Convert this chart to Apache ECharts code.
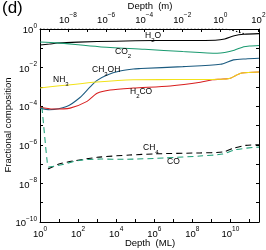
<!DOCTYPE html>
<html><head><meta charset="utf-8">
<script src="https://cdn.jsdelivr.net/npm/echarts@6/dist/echarts.min.js"></script>
<style>html,body{margin:0;padding:0;background:#fff}#c{width:266px;height:250px}</style>
</head><body><div id="c"></div>
<script>
// All values are log10 exponents
// x: log10(Depth in ML), y: log10(fractional composition)
const totalX = [0, 9.5, 10.0, 10.4, 10.7];
const totalY = [0, 0, -0.04, -0.15, -0.24];
const h2oX = [0, 0.5, 0.9, 2, 4, 6, 9.2, 9.7, 10.2, 10.7, 11.5];
const h2oY = [-0.83, -0.78, -0.73, -0.68, -0.63, -0.6, -0.58, -0.52, -0.35, -0.27, -0.24];
const co2X = [0, 0.9, 3.1, 5.5, 7.5, 9.3, 9.7, 10.2, 10.7, 11.0, 11.5];
const co2Y = [-0.67, -0.72, -0.92, -1.05, -1.17, -1.26, -1.22, -1.1, -0.92, -0.88, -0.85];
const ch3ohX = [0, 0.5, 1.4, 2.1, 2.63, 3.0, 3.53, 4.2, 4.9, 5.3, 7.5, 9.47, 10.16, 10.8, 11.5];
const ch3ohY = [-4.1, -4.18, -4.02, -3.55, -3.0, -2.66, -2.38, -2.18, -2.07, -2.05, -1.95, -1.83, -1.6, -1.55, -1.52];
const h2coX = [0, 0.68, 1.58, 2.47, 3.0, 3.68, 4.9, 6.84, 8.42, 9.05, 9.5, 10.0, 10.3, 10.6, 11.5];
const h2coY = [-4.04, -4.15, -4.1, -3.75, -3.33, -3.16, -3.06, -2.95, -2.76, -2.63, -2.6, -2.55, -2.4, -2.28, -2.23];
const nh3X = [0, 3, 4.9, 7, 9.5, 10.0, 10.3, 10.6, 11.5];
const nh3Y = [-3.06, -2.75, -2.63, -2.62, -2.6, -2.55, -2.4, -2.28, -2.23];
const ch4X = [0.42, 1.0, 1.74, 3.0, 4.7, 6, 8.4, 9.6, 10.2, 10.8, 11.5];
const ch4Y = [-7.25, -7.0, -6.84, -6.65, -6.53, -6.47, -6.42, -6.37, -6.17, -6.03, -6.0];
const coX = [0.1, 0.25, 0.37, 0.45, 1.05, 2.1, 3.2, 4.4, 6.6, 8.4, 9.6, 10.2, 11.2, 11.5];
const coY = [-4.05, -5.6, -6.8, -7.15, -7.05, -6.8, -6.74, -6.75, -6.68, -6.58, -6.48, -6.27, -6.13, -6.12];

const xLabelExps = [0, 2, 4, 6, 8, 10];
const xTickExps = [0, 1, 2, 3, 4, 5, 6, 7, 8, 9, 10, 11];
const mLabelExps = [-8, -6, -4, -2, 0, 2];
const mTickExps = [-9, -8, -7, -6, -5, -4, -3, -2, -1, 0, 1, 2];
const mOffset = 9.47; // log10(m) = log10(ML) - offset

const zip = (a, b) => a.map((v, i) => [v, b[i]]);
const FONT = 'Liberation Sans';
const pow = v => '{b|10}{s|' + String(Math.round(v)).replace('-', '\u2212') + '}';
const powRich = {
  b: {fontSize: 9.5, fontFamily: FONT, color: '#000', verticalAlign: 'bottom', lineHeight: 13},
  s: {fontSize: 6.5, fontFamily: FONT, color: '#000', verticalAlign: 'top', lineHeight: 13}
};

const chart = echarts.init(document.getElementById('c'), null, {renderer: 'canvas'});
const axisLine = {show: true, onZero: false, lineStyle: {color: '#000', width: 1}};
const tick = {show: true, inside: true, length: 3, lineStyle: {color: '#000', width: 1}};

function line(name, xs, ys, color, type, width) {
  return {
    name, type: 'line', data: zip(xs, ys), showSymbol: false, smooth: 0.25,
    lineStyle: {color, width: width || 1.05, type: type || 'solid'},
    xAxisIndex: 0, yAxisIndex: 0, z: 3, animation: false
  };
}

const sub = {
  a: {fontSize: 8.5, fontFamily: FONT, color: '#000', verticalAlign: 'top', lineHeight: 12},
  u: {fontSize: 6, fontFamily: FONT, color: '#000', verticalAlign: 'bottom', lineHeight: 12}
};
function note(text, x, y) {
  return {type: 'text', left: x, top: y, z: 10,
    style: {text, rich: sub, fill: '#000', font: '8.5px ' + FONT}};
}
function axisTitle(text, x, y, rot) {
  return {type: 'text', x, y, rotation: rot || 0, z: 10,
    style: {text, font: '9.5px ' + FONT, fill: '#000', align: 'center', verticalAlign: 'middle'}};
}

chart.setOption({
  animation: false,
  grid: {left: 40, top: 29, right: 7, bottom: 28, containLabel: false, outerBoundsMode: 'none'},
  xAxis: [{
    type: 'value', min: 0, max: 11.5, position: 'bottom',
    axisLine, axisTick: Object.assign({customValues: xTickExps}, tick),
    splitLine: {show: false},
    axisLabel: {customValues: xLabelExps, formatter: pow, rich: powRich, margin: 4}
  }, {
    type: 'value', min: -mOffset, max: 11.5 - mOffset, position: 'top',
    axisLine, axisTick: Object.assign({customValues: mTickExps}, tick),
    splitLine: {show: false},
    axisLabel: {customValues: mLabelExps, formatter: pow, rich: powRich, margin: 4}
  }],
  yAxis: [{
    type: 'value', min: -10, max: 0, position: 'left',
    axisLine, axisTick: tick,
    splitLine: {show: false}, interval: 1,
    axisLabel: {formatter: v => (Math.round(v) % 2 === 0 ? pow(v) : ''), rich: powRich, margin: 3}
  }, {
    type: 'value', min: -10, max: 0, position: 'right', interval: 1,
    axisLine, axisTick: tick, axisLabel: {show: false}, splitLine: {show: false}
  }],
  graphic: [
    {type: 'text', left: 2, top: 0, style: {text: '(d)', font: '17px ' + FONT, fill: '#000'}},
    axisTitle('Depth  (ML)', 150, 243),
    axisTitle('Depth  (m)', 150, 6),
    axisTitle('Fractional composition', 8, 125, Math.PI / 2),
    note('{a|H}{u|2}{a|O}', 145, 31),
    note('{a|CO}{u|2}', 115, 47),
    note('{a|CH}{u|3}{a|OH}', 92, 65),
    note('{a|NH}{u|3}', 53, 75),
    note('{a|H}{u|2}{a|CO}', 130, 87),
    note('{a|CH}{u|4}', 143, 143),
    note('{a|CO}', 167, 157)
  ],
  series: [
    line('total', totalX, totalY, '#000', [1.5, 2], 1.1),
    line('H2O', h2oX, h2oY, '#000'),
    line('CO2', co2X, co2Y, '#1a9a70'),
    line('CH3OH', ch3ohX, ch3ohY, '#1b5b80'),
    line('H2CO', h2coX, h2coY, '#d81e1e'),
    line('NH3', nh3X, nh3Y, '#f2e21a'),
    line('CH4', ch4X, ch4Y, '#000', [6, 4]),
    line('CO', coX, coY, '#1fa078', [6, 4])
  ]
});
</script></body></html>
